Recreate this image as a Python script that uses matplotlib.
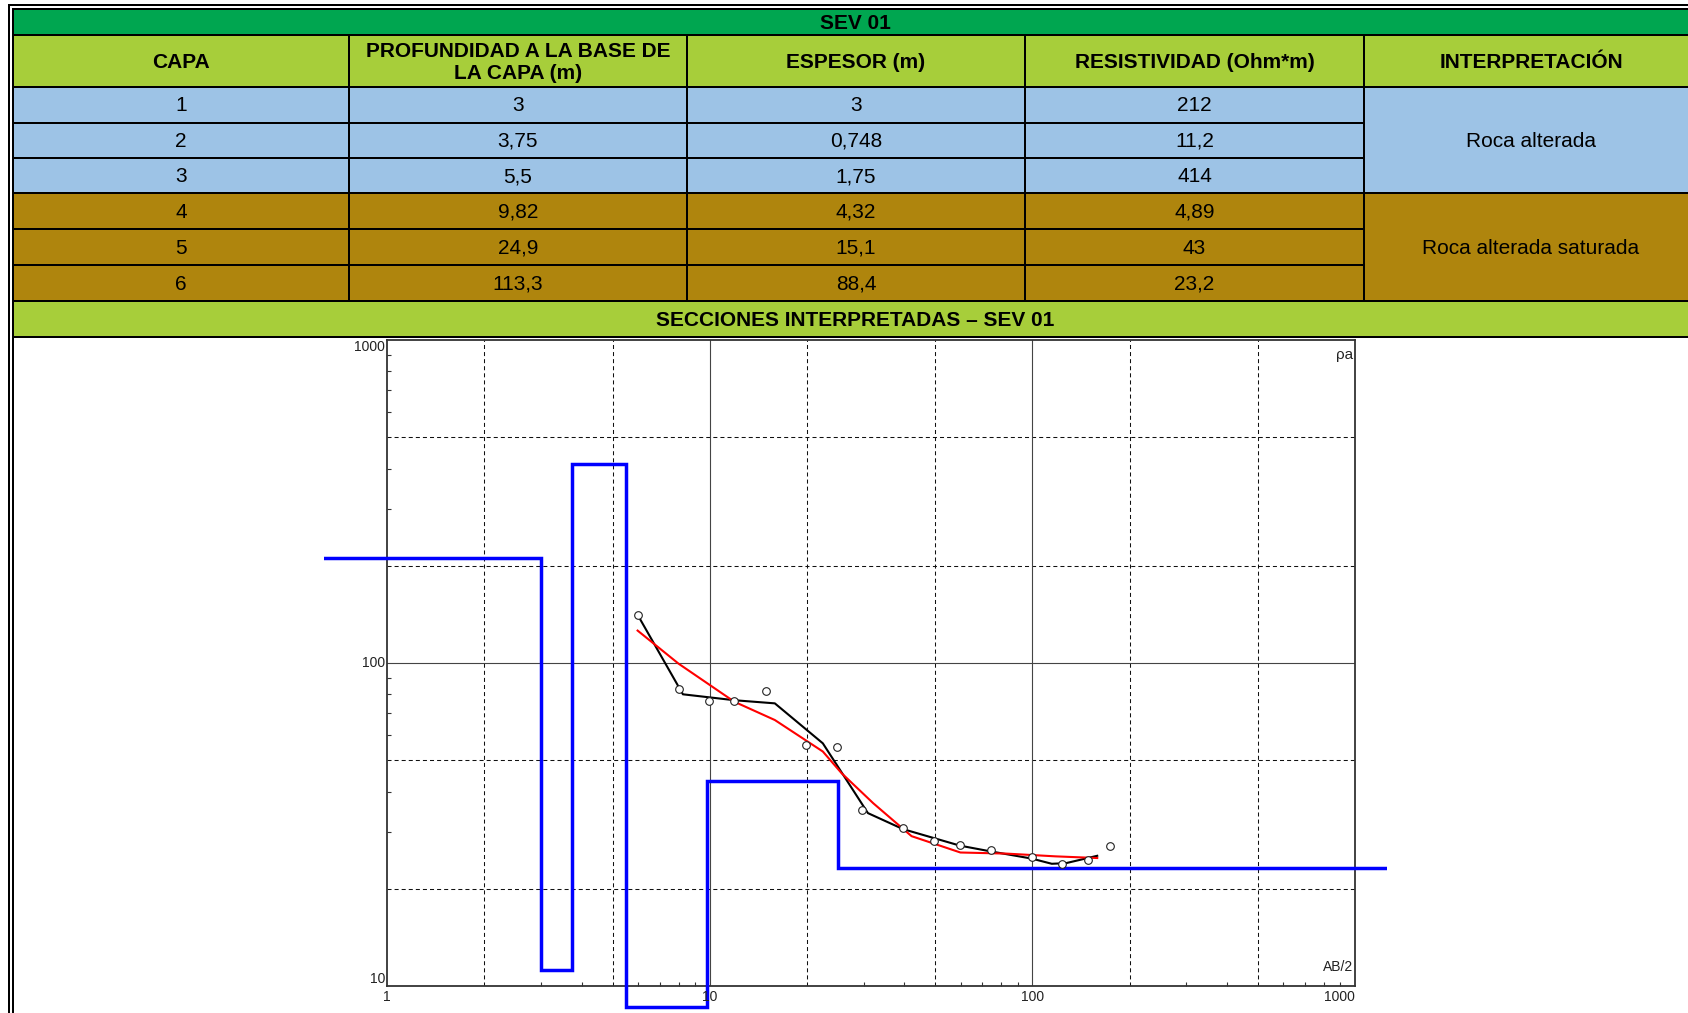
import numpy as np
import matplotlib
matplotlib.use("Agg")
import matplotlib.pyplot as plt
from matplotlib.patches import Rectangle
from matplotlib.transforms import Bbox, TransformedBbox
from matplotlib.ticker import NullFormatter

plt.rcParams['font.family'] = ['Liberation Sans', 'DejaVu Sans']
plt.rcParams['lines.scale_dashes'] = False

# ============================
#        TABLE DATA
# ============================
titulo = "SEV 01"
encabezados = ["CAPA", "PROFUNDIDAD A LA BASE DE\nLA CAPA (m)", "ESPESOR (m)",
               "RESISTIVIDAD (Ohm*m)", "INTERPRETACIÓN"]
capa = [1, 2, 3, 4, 5, 6]
profundidad = [3, 3.75, 5.5, 9.82, 24.9, 113.3]
espesor = [3, 0.748, 1.75, 4.32, 15.1, 88.4]
resistividad = [212, 11.2, 414, 4.89, 43, 23.2]
interpretacion = ["Roca alterada", "Roca alterada saturada"]
grupo = [0, 0, 0, 1, 1, 1]
subtitulo = "SECCIONES INTERPRETADAS – SEV 01"

# ============================
#     SOUNDING CURVE DATA
# ============================
# measured apparent resistivity (circles)
ab2_obs = [5.97, 8.0, 9.95, 11.9, 14.9, 19.9, 24.8, 29.7, 39.7, 49.7, 59.6, 74.3, 99.5, 123.6, 148.5, 174]
rho_obs = [141, 83.3, 76.4, 76.4, 82, 55.7, 54.8, 35.1, 30.8, 28.2, 27.4, 26.3, 25.1, 23.9, 24.6, 27.2]
# smoothed field curve (black)
ab2_campo = [5.97, 8.25, 11.9, 15.9, 22.4, 30.9, 39.7, 59.6, 74.3, 99.5, 114.8, 126.9, 158.8]
rho_campo = [141, 80.0, 76.7, 75.0, 56.4, 34.3, 30.6, 27.2, 26.1, 24.8, 23.9, 24.0, 25.3]
# model response (red)
ab2_modelo = [5.97, 8.0, 11.9, 15.9, 22.4, 25.6, 32.1, 42.2, 59.8, 82.9, 117.8, 158.8]
rho_modelo = [126, 99.5, 75.9, 66.6, 53.2, 45.6, 36.8, 29.1, 25.9, 25.7, 25.2, 24.9]

# colours
verde_osc = "#00A650"
verde_cla = "#A7CE3A"
azul = "#9DC3E6"
cafe = "#AF850D"

fmt = lambda v: str(v).replace(".", ",")

W, H = 1688, 1013
fig = plt.figure(figsize=(W / 100, H / 100), dpi=100)
fig.patch.set_facecolor("white")

# page axes in pixel coordinates
pg = fig.add_axes([0, 0, 1, 1])
pg.set_xlim(0, W)
pg.set_ylim(H, 0)
pg.set_axis_off()

x_cols = [13, 349, 687, 1025, 1364, 1698]
y_rows = [9, 35, 87, 122.5, 158, 193, 229, 265, 301, 337]
lw_px = 1.44
fs = 15

def box(x0, y0, x1, y1, c, z=1):
    pg.add_patch(Rectangle((x0, y0), x1 - x0, y1 - y0, facecolor=c, edgecolor="none", zorder=z))

# fills
box(x_cols[0], y_rows[0], x_cols[-1], y_rows[1], verde_osc)
box(x_cols[0], y_rows[1], x_cols[-1], y_rows[2], verde_cla)
for i in range(len(capa)):
    c = azul if grupo[i] == 0 else cafe
    box(x_cols[0], y_rows[2 + i], x_cols[4], y_rows[3 + i], c)
box(x_cols[4], y_rows[2], x_cols[5], y_rows[5], azul)
box(x_cols[4], y_rows[5], x_cols[5], y_rows[8], cafe)
box(x_cols[0], y_rows[8], x_cols[-1], y_rows[9], verde_cla)

# grid lines of the table
for j, y in enumerate(y_rows):
    if j in (3, 4, 6, 7):
        pg.plot([x_cols[0], x_cols[4]], [y, y], color="black", lw=lw_px, zorder=3)
    else:
        pg.plot([x_cols[0], x_cols[-1]], [y, y], color="black", lw=lw_px, zorder=3)
for x in x_cols[1:5]:
    pg.plot([x, x], [y_rows[1], y_rows[8]], color="black", lw=lw_px, zorder=3)
# outer double border
pg.plot([9, 9], [4, H], color="black", lw=lw_px, zorder=3, solid_capstyle="butt")
pg.plot([13, 13], [8, H], color="black", lw=lw_px, zorder=3, solid_capstyle="butt")
pg.plot([8, W], [5, 5], color="black", lw=lw_px, zorder=3, solid_capstyle="butt")

# texts
pg.text((x_cols[0] + x_cols[-1]) / 2, (y_rows[0] + y_rows[1]) / 2 + 1, titulo,
        ha="center", va="center", fontsize=fs, fontweight="bold", zorder=4)
for k, t in enumerate(encabezados):
    pg.text((x_cols[k] + x_cols[k + 1]) / 2, (y_rows[1] + y_rows[2]) / 2 + 1, t,
            ha="center", va="center", fontsize=fs, fontweight="bold", linespacing=1.2, zorder=4)
for i in range(len(capa)):
    yc = (y_rows[2 + i] + y_rows[3 + i]) / 2 + 1
    for k, v in enumerate([capa[i], profundidad[i], espesor[i], resistividad[i]]):
        pg.text((x_cols[k] + x_cols[k + 1]) / 2, yc, fmt(v), ha="center", va="center",
                fontsize=fs, zorder=4)
pg.text((x_cols[4] + x_cols[5]) / 2, (y_rows[2] + y_rows[5]) / 2 + 1, interpretacion[0],
        ha="center", va="center", fontsize=fs, zorder=4)
pg.text((x_cols[4] + x_cols[5]) / 2, (y_rows[5] + y_rows[8]) / 2 + 1, interpretacion[1],
        ha="center", va="center", fontsize=fs, zorder=4)
pg.text((x_cols[0] + x_cols[-1]) / 2, (y_rows[8] + y_rows[9]) / 2 + 1, subtitulo,
        ha="center", va="center", fontsize=fs, fontweight="bold", zorder=4)

# embedded picture area (white, covers border)
img = (324, 337.5, 1387, H)
box(img[0], img[1], img[2], img[3], "white", z=5)

# ============================
#        SOUNDING PLOT
# ============================
ax_l, ax_r, ax_t, ax_b = 387.3, 1355, 340, 986
ax = fig.add_axes([ax_l / W, 1 - ax_b / H, (ax_r - ax_l) / W, (ax_b - ax_t) / H])
ax.set_zorder(2)
ax.set_xscale("log")
ax.set_yscale("log")
ax.set_xlim(1, 1000)
ax.set_ylim(10, 1000)

for s in ax.spines.values():
    s.set_color("#333333")
    s.set_linewidth(1.3)

ax.set_xticks([])
ax.set_yticks([])
minors = [m * 10 ** d for d in range(0, 3) for m in (3, 4, 6, 7, 8, 9)]
ax.set_xticks(minors, minor=True)
ax.set_yticks([m for m in minors if m > 10], minor=True)
ax.xaxis.set_minor_formatter(NullFormatter())
ax.yaxis.set_minor_formatter(NullFormatter())
ax.tick_params(which="minor", direction="in", length=3, width=0.8, color="#333333")

dot = (0, (2.9, 2.2))
for v in (2, 5, 20, 50, 200, 500):
    ax.axvline(v, color="#111111", lw=0.75, ls=dot, zorder=1)
    ax.axhline(v, color="#111111", lw=0.75, ls=dot, zorder=1)
for v in (10, 100):
    ax.axvline(v, color="#444444", lw=0.8, zorder=1)
ax.axhline(100, color="#444444", lw=0.8, zorder=1)

# layered model (blue), clipped to picture area and display floor
piso = 8.63
x_mod = np.concatenate([[0.1], np.repeat(profundidad[:5], 2), [1e4]])
y_mod = np.repeat(np.maximum(resistividad, piso), 2)
linea, = ax.plot(x_mod, y_mod, color="#0000FF", lw=2.5, solid_joinstyle="miter", zorder=3)
clip = Bbox.from_extents(img[0] / W, 1 - img[3] / H, img[2] / W, 1 - img[1] / H)
linea.set_clip_box(TransformedBbox(clip, fig.transFigure))

ax.plot(ab2_campo, rho_campo, color="black", lw=1.5, zorder=4)
ax.plot(ab2_modelo, rho_modelo, color="#FF0000", lw=1.5, zorder=5)
ax.plot(ab2_obs, rho_obs, ls="none", marker="o", ms=5.5, mfc="white", mec="#222222", mew=0.8, zorder=6)

lab = dict(fontsize=10, color="#222222")
xt = ax.get_xaxis_transform()
yt = ax.get_yaxis_transform()
ax.text(1, -0.006, "1", ha="center", va="top", transform=xt, **lab)
ax.text(10, -0.006, "10", ha="center", va="top", transform=xt, **lab)
ax.text(100, -0.006, "100", ha="center", va="top", transform=xt, **lab)
ax.text(1000, -0.006, "1000", ha="right", va="top", transform=xt, **lab)
ax.text(-0.002, 1000, "1000", ha="right", va="top", transform=yt, **lab)
ax.text(-0.002, 100, "100", ha="right", va="center", transform=yt, **lab)
ax.text(-0.002, 10, "10", ha="right", va="bottom", transform=yt, **lab)
ax.text(0.998, 0.988, "ρa", ha="right", va="top", transform=ax.transAxes, fontsize=11, color="#222222")
ax.text(0.998, 0.018, "AB/2", ha="right", va="bottom", transform=ax.transAxes, **lab)
for t in ax.texts:
    t.set_clip_on(False)

fig.savefig("out.png", dpi=100)
